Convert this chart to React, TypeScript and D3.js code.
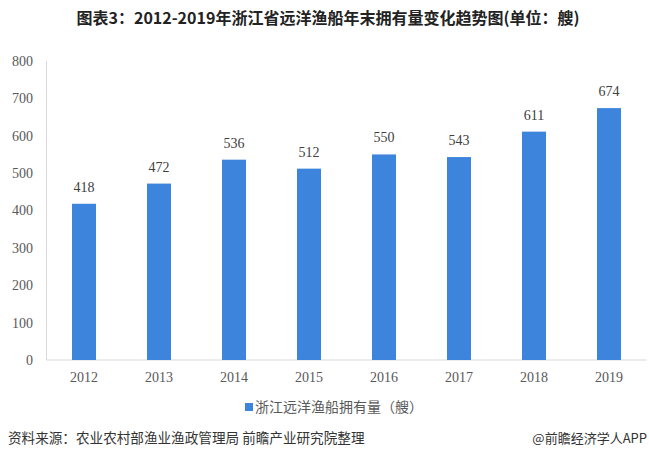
import React from "react";
import * as d3 from "d3";

const categories = ["2012", "2013", "2014", "2015", "2016", "2017", "2018", "2019"];
const values = [418, 472, 536, 512, 550, 543, 611, 674];
const yTicks = [0, 100, 200, 300, 400, 500, 600, 700, 800];
const title = "图表3：2012-2019年浙江省远洋渔船年末拥有量变化趋势图(单位：艘)";
const legendLabel = "浙江远洋渔船拥有量（艘）";
const source = "资料来源：农业农村部渔业渔政管理局 前瞻产业研究院整理";
const credit = "@前瞻经济学人APP";

export default function App() {
  const W = 649, H = 457;
  const left = 46.5, right = 646.5, top = 61, bottom = 360;
  const x = d3.scaleBand<string>().domain(categories).range([left, right]).paddingInner(0.68).paddingOuter(0.34);
  const y = d3.scaleLinear().domain([0, 800]).range([bottom, top]);
  const serif = "'Liberation Serif', 'Times New Roman', serif";
  const sans = "'Noto Sans CJK SC', 'Noto Sans', sans-serif";
  return (
    <svg width={W} height={H} style={{ position: "absolute", left: 0, top: 0, background: "#fff" }}>
      <rect x={0} y={0} width={W} height={H} fill="#fff" />
      <text x={328} y={24} textAnchor="middle" fontFamily={sans} fontWeight="bold" fontSize={16} fill="#222">{title}</text>
      <line x1={left} x2={left} y1={top} y2={bottom} stroke="#d9d9d9" />
      <line x1={left} x2={right} y1={bottom} y2={bottom} stroke="#d9d9d9" />
      {yTicks.map((t) => (
        <text key={t} x={33} y={y(t)} dy="0.35em" textAnchor="end" fontFamily={serif} fontSize={14} fill="#595959">{t}</text>
      ))}
      {categories.map((c, i) => (
        <g key={c}>
          <rect x={x(c)} y={y(values[i])} width={x.bandwidth()} height={bottom - y(values[i])} fill="#3d85dc" />
          <text x={x(c)! + x.bandwidth() / 2} y={y(values[i]) - 12} textAnchor="middle" fontFamily={serif} fontSize={14} fill="#404040">{values[i]}</text>
          <text x={x(c)! + x.bandwidth() / 2} y={377} dy="0.35em" textAnchor="middle" fontFamily={serif} fontSize={14} fill="#595959">{c}</text>
        </g>
      ))}
      <rect x={245} y={403} width={8} height={8} fill="#3d85dc" />
      <text x={255} y={407} dy="0.35em" fontFamily={sans} fontSize={14} fill="#595959">{legendLabel}</text>
      <text x={8} y={438} dy="0.35em" fontFamily={sans} fontSize={13.6} fill="#333">{source}</text>
      <text x={647} y={438} dy="0.35em" textAnchor="end" fontFamily={sans} fontSize={13} fill="#333">{credit}</text>
    </svg>
  );
}
